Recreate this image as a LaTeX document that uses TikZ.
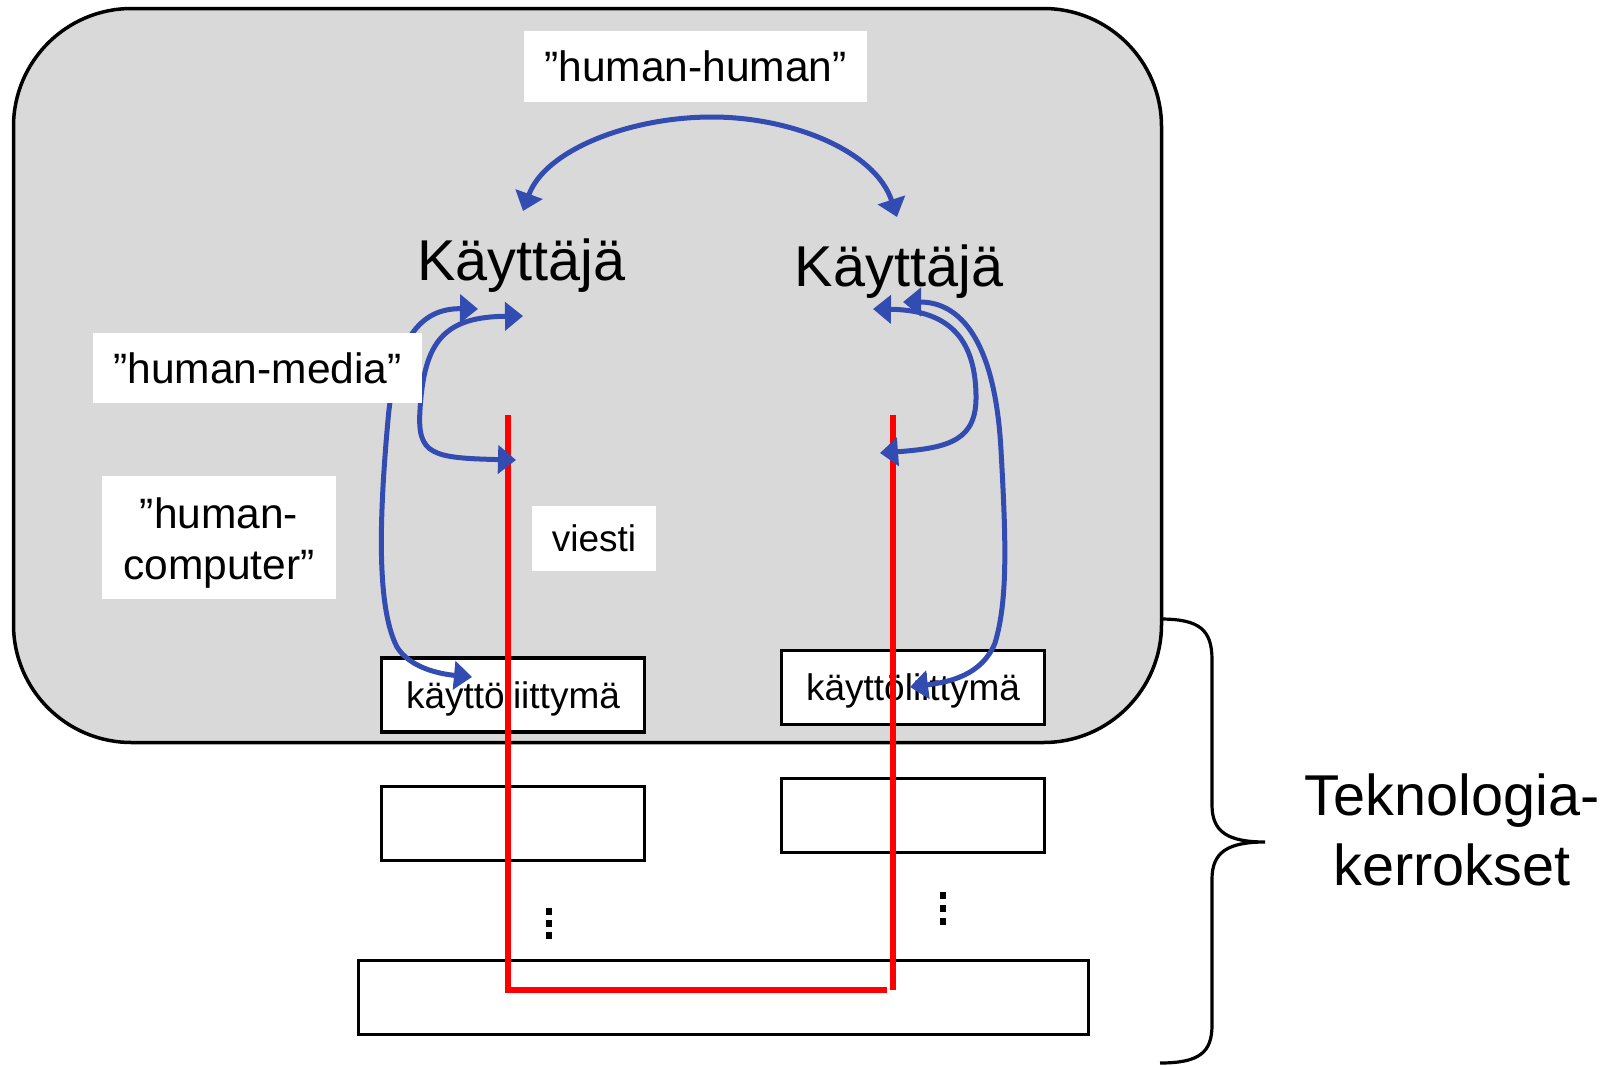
\documentclass[tikz,border=0pt]{standalone}
\usepackage{fontspec}
\setmainfont{Liberation Sans}
\usetikzlibrary{arrows.meta}
\definecolor{panelgray}{RGB}{217,217,217}
\definecolor{linkblue}{RGB}{51,76,178}
\definecolor{msgred}{RGB}{255,0,0}

\begin{document}
\begin{tikzpicture}[x=0.5pt, y=-0.5pt, >={Triangle[length=9pt,width=14pt]},
    link/.style={linkblue, line width=2.5pt, <->},
    msg/.style={msgred, line width=3pt},
    layer/.style={draw, line width=1.75pt, fill=white, inner sep=0pt, minimum width=131.5pt, minimum height=37pt,
        font=\fontsize{18.5}{22}\selectfont, text height=13.25pt, text depth=0pt},
    tagfont/.style={font=\fontsize{21.25}{25.5}\selectfont},
    tag/.style={tagfont, fill=white, inner sep=0pt, text height=15.2pt, text depth=0pt},
    big/.style={font=\fontsize{28.8}{35}\selectfont}]
    \useasboundingbox (0,0) rectangle (1613,1066);

    % Shared context
    \draw[line width=1.75pt, fill=panelgray, rounded corners=59pt] (13.5,8.5) rectangle (1161.5,742.5);

    % Technology layers
    \node[layer] (uiL) at (513,695) {käyttöliittymä};
    \node[layer] (uiR) at (913,687.5) {käyttöliittymä};
    \node[layer] (midL) at (513,823.5) {};
    \node[layer] (midR) at (913,815.5) {};
    \node[layer, minimum width=365pt] (net) at (723.5,997.5) {};
    \fill (545.5,907.5) rectangle (551.5,914.5);
    \fill (545.5,920) rectangle (551.5,927);
    \fill (545.5,932) rectangle (551.5,939);
    \fill (939.5,892) rectangle (945.5,899);
    \fill (939.5,905) rectangle (945.5,912);
    \fill (939.5,918) rectangle (945.5,925);

    % Message path
    \coordinate (msgL) at (508,415);
    \coordinate (msgR) at (893,415);
    \coordinate (msgEnd) at (887,990);
    \draw[msg] (msgL) |- (msgEnd);
    \draw[msg] (msgR) -- (msgR |- msgEnd);

    % Interactions
    \coordinate (hhL) at (523,211);
    \coordinate (hhTop) at (712,117);
    \coordinate (hhR) at (897,217);
    \draw[link] (hhL) .. controls (545,150) and (630,117) .. (hhTop) .. controls (790,117) and (875,150) .. (hhR);

    \coordinate (hmL1) at (523,316);
    \coordinate (hmL2) at (516,460);
    \draw[link] (hmL1) .. controls (445,317) and (424,340) .. (420,410) .. controls (417,455) and (432,458) .. (hmL2);

    \coordinate (hcL1) at (478,309);
    \coordinate (hcL2) at (472,677);
    \draw[link] (hcL1) .. controls (420,308) and (395,340) .. (388,420) .. controls (378,530) and (378,610) .. (397,647)
        .. controls (410,668) and (440,674) .. (hcL2);

    \coordinate (hmR1) at (873,309);
    \coordinate (hmR2) at (880,453);
    \draw[link] (hmR1) .. controls (940,310) and (975,330) .. (976,395) .. controls (977,440) and (950,448) .. (hmR2);

    \coordinate (hcR1) at (903,302);
    \coordinate (hcR2) at (910,687);
    \draw[link] (hcR1) .. controls (960,302) and (995,340) .. (1001,450) .. controls (1006,540) and (1008,600) .. (995,643)
        .. controls (982,675) and (950,682) .. (hcR2);

    % Labels
    \node[tag, minimum width=171.5pt, minimum height=35.5pt] (hh) at (695.5,66.5) {”human-human”};
    \node[tag, minimum width=164.5pt, minimum height=35pt] (hm) at (257.5,368) {”human-media”};
    \node[tag, minimum width=117pt, minimum height=61.5pt] (hcbox) at (219,537.5) {};
    \node[tagfont, align=center, anchor=north, inner sep=0pt] (hc) at (219,497) {”human-\\computer”};
    \node[tag, font=\fontsize{18.5}{22}\selectfont, text height=13.25pt, minimum width=62pt, minimum height=32.5pt] (viesti) at (594,538.5) {viesti};

    % Users
    \node[big, anchor=base] (userL) at (521.5,280) {Käyttäjä};
    \node[big, anchor=base] (userR) at (899,286) {Käyttäjä};

    % Brace
    \draw[line width=1.6pt] (1160,619) .. controls (1200,619) and (1212,630) .. (1212,660) -- (1212,805)
        .. controls (1212,832) and (1228,842) .. (1265,842) .. controls (1228,842) and (1212,852) .. (1212,879)
        -- (1212,1025) .. controls (1212,1052) and (1200,1063) .. (1160,1063);
    \node[big, align=center, anchor=north, inner sep=0pt] (tech) at (1452,773) {Teknologia-\\kerrokset};
\end{tikzpicture}
\end{document}
